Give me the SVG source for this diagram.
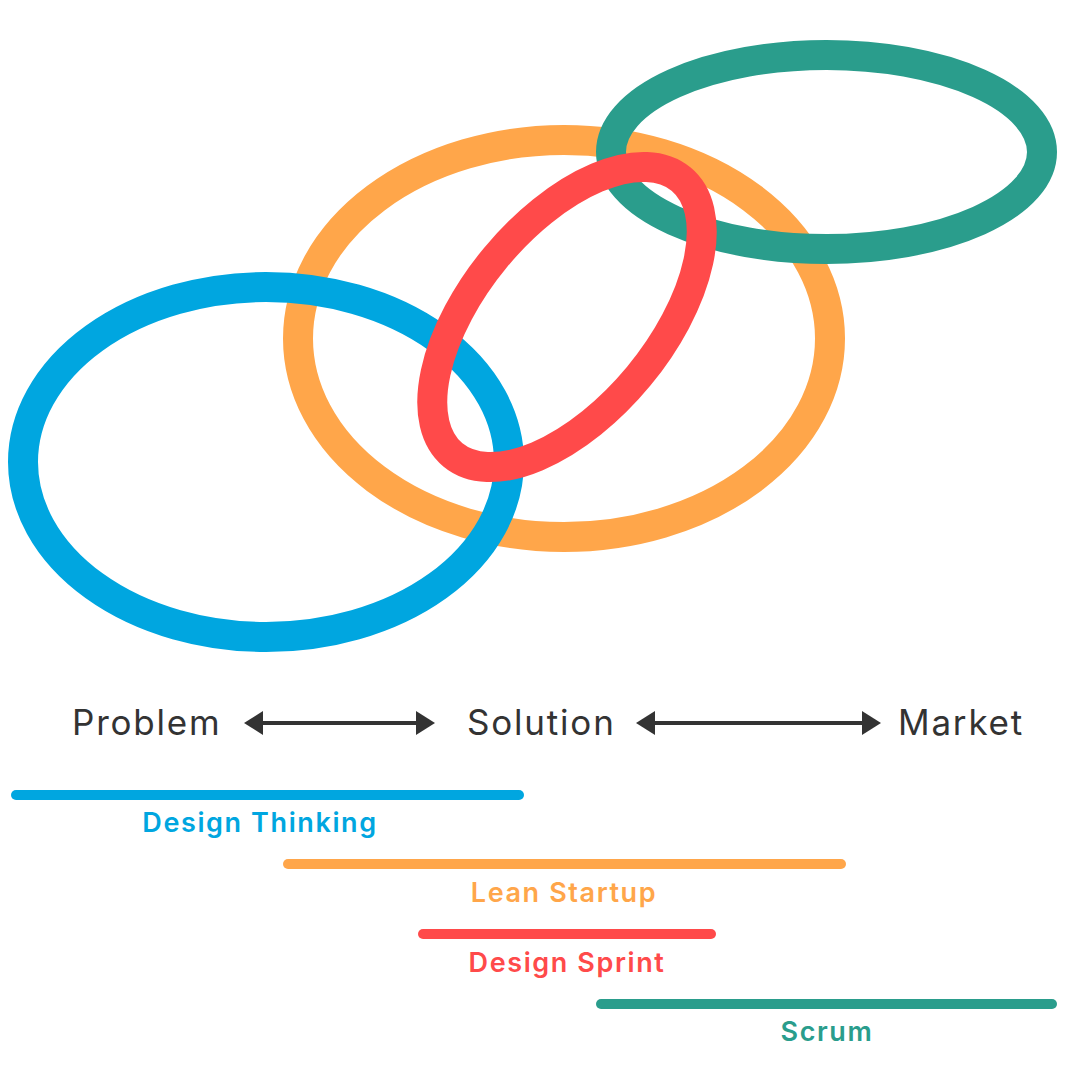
<svg xmlns="http://www.w3.org/2000/svg" width="1080" height="1080" viewBox="0 0 1080 1080">
  <style>
    .ring { fill: none; stroke-width: 30; }
    .bar { stroke-width: 10; stroke-linecap: round; }
    .stage { font-family: Inter, "Noto Sans", sans-serif; font-size: 35px; letter-spacing: 1.8px; fill: #333333; }
    .label { font-family: Inter, "Noto Sans", sans-serif; font-size: 27px; font-weight: 600; letter-spacing: 1.6px; text-anchor: middle; }
    .arrow { stroke: #333333; stroke-width: 4; }
    .blue { stroke: #00A6E0; }
    .orange { stroke: #FFA64A; }
    .red { stroke: #FF4A4A; }
    .teal { stroke: #2A9D8C; }
  </style>
  <defs>
    <marker id="head" markerUnits="userSpaceOnUse" markerWidth="19" markerHeight="24" refX="0" refY="12" orient="auto-start-reverse" viewBox="0 0 19 24">
      <path d="M0,0 L19,12 L0,24 Z" fill="#333333"/>
    </marker>
  </defs>

  <rect width="1080" height="1080" fill="#ffffff"/>

  <!-- Interlocking rings, bottom to top -->
  <g id="ring-lean-startup">
    <ellipse class="ring orange" cx="564" cy="338.5" rx="266" ry="198.5"/>
  </g>
  <g id="ring-design-thinking">
    <ellipse class="ring blue" cx="266" cy="462" rx="243" ry="175"/>
  </g>
  <g id="ring-scrum">
    <ellipse class="ring teal" cx="826.5" cy="152" rx="215.5" ry="97"/>
  </g>
  <g id="ring-design-sprint">
    <ellipse class="ring red" cx="567" cy="317" rx="179" ry="93" transform="rotate(-50.4 567 317)"/>
  </g>

  <!-- Stage labels -->
  <g id="stage-problem"><text class="stage" x="72" y="735">Problem</text></g>
  <g id="stage-solution"><text class="stage" x="467" y="735">Solution</text></g>
  <g id="stage-market"><text class="stage" x="898" y="735">Market</text></g>

  <!-- Double-headed arrows between stages -->
  <g id="connectors">
    <line class="arrow" x1="263" y1="723" x2="416" y2="723" marker-start="url(#head)" marker-end="url(#head)"/>
    <line class="arrow" x1="655" y1="723" x2="862" y2="723" marker-start="url(#head)" marker-end="url(#head)"/>
  </g>

  <!-- Method spans -->
  <g id="span-design-thinking">
    <line class="bar blue" x1="16" y1="795" x2="519" y2="795"/>
    <text class="label" x="260" y="832" fill="#00A6E0">Design Thinking</text>
  </g>
  <g id="span-lean-startup">
    <line class="bar orange" x1="288" y1="864" x2="841" y2="864"/>
    <text class="label" x="564" y="902" fill="#FFA64A">Lean Startup</text>
  </g>
  <g id="span-design-sprint">
    <line class="bar red" x1="423" y1="934" x2="711" y2="934"/>
    <text class="label" x="567" y="972" fill="#FF4A4A">Design Sprint</text>
  </g>
  <g id="span-scrum">
    <line class="bar teal" x1="601" y1="1004" x2="1052" y2="1004"/>
    <text class="label" x="827" y="1041" fill="#2A9D8C">Scrum</text>
  </g>
</svg>
